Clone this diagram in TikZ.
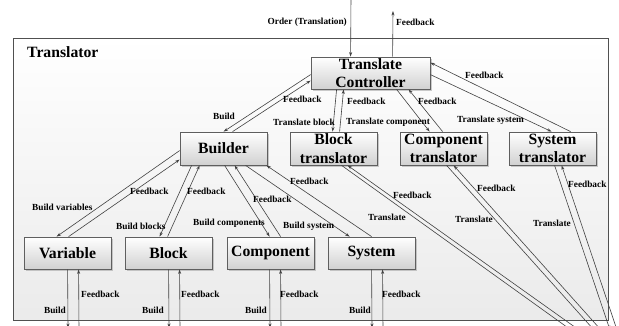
\documentclass[tikz,border=0pt]{standalone}
\usepackage{fontspec}
\setmainfont{Liberation Serif}
\usetikzlibrary{calc,arrows.meta,shadows}
\definecolor{edgegray}{RGB}{65,65,65}
\definecolor{framegray}{RGB}{80,80,80}
\definecolor{boxgray}{RGB}{95,95,95}
\tikzset{
  unit/.style={draw=boxgray, line width=0.8pt, top color=white, bottom color=black!18,
    drop shadow={shadow xshift=1.5pt, shadow yshift=-1.5pt, fill=black!40, opacity=0.5},
    inner sep=0pt, minimum width=87pt, minimum height=33pt, align=center,
    font=\fontsize{15.7}{18.5}\selectfont\bfseries},
  flow/.style={draw=edgegray, line width=0.6pt, -{Stealth[length=4.5pt,width=3pt]}},
  tag/.style={font=\fontsize{9.3}{10}\selectfont\bfseries, inner sep=0pt},
}
\begin{document}
\begin{tikzpicture}[x=1pt,y=-1pt]
\useasboundingbox (0,0) rectangle (619,325);

% enclosing translator area
\node[draw=framegray, line width=0.8pt, top color=white, bottom color=black!8,
      minimum width=595pt, minimum height=282pt, inner sep=0pt] (frame) at (310.5,179) {};
\node[anchor=west, font=\fontsize{15.7}{18}\selectfont\bfseries, inner sep=0pt] (title) at (27,52) {Translator};

% components
\node[unit, minimum width=119pt, minimum height=32pt] (ctrl) at (370.5,73) {Translate\\Controller};
\node[unit] (builder) at (223.5,148.5) {Builder};
\node[unit] (btr) at (333.5,148.5) {Block\\translator};
\node[unit] (ctr) at (443.5,148.5) {Component\\translator};
\node[unit] (str) at (552.5,148.5) {System\\translator};
\node[unit, minimum height=32pt] (var) at (67.5,253) {Variable};
\node[unit, minimum height=32pt] (blk) at (168.5,253) {Block};
\node[unit, minimum height=32pt] (cmp) at (270.5,253) {Component};
\node[unit, minimum height=32pt] (sys) at (371.5,253) {System};

% free ends outside the area
\coordinate (ordsrc) at (351,-3);
\coordinate (fbdst) at (393,11);
\coordinate (varout) at (68,328);  \coordinate (varin) at (79,330);
\coordinate (blkout) at (169,328); \coordinate (blkin) at (180,330);
\coordinate (cmpout) at (270,328); \coordinate (cmpin) at (281,330);
\coordinate (sysout) at (372,328); \coordinate (sysin) at (383,330);
\coordinate (btrout) at (571,330); \coordinate (btrin) at (579,330);
\coordinate (ctrout) at (594,330); \coordinate (ctrin) at (601,330);
\coordinate (strout) at (610,330); \coordinate (strin) at (617,330);

% controller in/out
\draw[flow] (ordsrc) -- ($(ctrl.north west)+(40,0)$);
\draw[flow] ($(ctrl.north west)+(82,0)$) -- (fbdst);
\node[tag, anchor=east] (l1) at (347,22) {Order (Translation)};
\node[tag, anchor=west] (l2) at (396,22) {Feedback};

% controller <-> builder
\draw[flow] ($(ctrl.north west)+(0,18)$) -- ($(builder.north west)+(44,0)$);
\draw[flow] ($(builder.north west)+(53,0)$) -- ($(ctrl.north west)+(0,24)$);
\node[tag, anchor=west] (l3) at (213,116) {Build};
\node[tag, anchor=west] (l4) at (283,99) {Feedback};

% controller <-> block translator
\draw[flow] ($(ctrl.south west)+(26,0)$) -- ($(btr.north west)+(43,0)$);
\draw[flow] ($(btr.north west)+(50,0)$) -- ($(ctrl.south west)+(33,0)$);
\node[tag, anchor=east] (l5) at (335,122) {Translate block};
\node[tag, anchor=west] (l6) at (347,101) {Feedback};

% controller <-> component translator
\draw[flow] ($(ctrl.south west)+(86,0)$) -- ($(ctr.north west)+(30,0)$);
\draw[flow] ($(ctr.north west)+(43,0)$) -- ($(ctrl.south west)+(98,0)$);
\node[tag, anchor=west] (l7) at (346,122) {Translate component};
\node[tag, anchor=west] (l8) at (418,101) {Feedback};

% controller <-> system translator
\draw[flow] ($(ctrl.north east)+(0,18)$) -- ($(str.north west)+(43,0)$);
\draw[flow] ($(str.north west)+(62,0)$) -- ($(ctrl.north east)+(0,6)$);
\node[tag, anchor=west] (l9) at (465,75) {Feedback};
\node[tag, anchor=west] (l10) at (457,120) {Translate system};

% builder <-> building blocks
\draw[flow] ($(builder.north west)+(0,19)$) -- ($(var.north west)+(33,0)$);
\draw[flow] ($(var.north west)+(45,0)$) -- ($(builder.north west)+(0,28)$);
\node[tag, anchor=west] (l11) at (32,207) {Build variables};
\node[tag, anchor=west] (l12) at (130,191) {Feedback};

\draw[flow] ($(builder.south west)+(12,0)$) -- ($(blk.north west)+(35,0)$);
\draw[flow] ($(blk.north west)+(43,0)$) -- ($(builder.south west)+(20,0)$);
\node[tag, anchor=west] (l13) at (116,226) {Build blocks};
\node[tag, anchor=west] (l14) at (187,191) {Feedback};

\draw[flow] ($(builder.south west)+(45,0)$) -- ($(cmp.north west)+(43,0)$);
\draw[flow] ($(cmp.north west)+(54,0)$) -- ($(builder.south west)+(55,0)$);
\node[tag, anchor=west] (l15) at (193,223) {Build components};
\node[tag, anchor=west] (l16) at (253,199) {Feedback};

\draw[flow] ($(builder.south west)+(66,0)$) -- ($(sys.north west)+(22,0)$);
\draw[flow] ($(sys.north west)+(44,0)$) -- ($(builder.south east)+(-1,0)$);
\node[tag, anchor=west] (l17) at (283,226) {Build system};
\node[tag, anchor=west] (l18) at (290,181) {Feedback};

% translators to the outside
\draw[flow] ($(btr.south west)+(52,0)$) -- (btrout);
\draw[flow] (btrin) -- ($(btr.south west)+(58,0)$);
\node[tag, anchor=west] (l19) at (368,217) {Translate};
\node[tag, anchor=west] (l20) at (393,195) {Feedback};

\draw[flow] ($(ctr.south west)+(47,0)$) -- (ctrout);
\draw[flow] (ctrin) -- ($(ctr.south west)+(54,0)$);
\node[tag, anchor=west] (l21) at (455,219) {Translate};
\node[tag, anchor=west] (l22) at (477,188) {Feedback};

\draw[flow] ($(str.south west)+(46,0)$) -- (strout);
\draw[flow] (strin) -- ($(str.south west)+(53,0)$);
\node[tag, anchor=west] (l23) at (533,223) {Translate};
\node[tag, anchor=west] (l24) at (568,184) {Feedback};

% building blocks to the outside
\draw[flow] ($(var.south west)+(44,0)$) -- (varout);
\draw[flow] (varin) -- ($(var.south west)+(55,0)$);
\node[tag, anchor=east] (l25) at (66,310) {Build};
\node[tag, anchor=west] (l26) at (81,294) {Feedback};

\draw[flow] ($(blk.south west)+(44,0)$) -- (blkout);
\draw[flow] (blkin) -- ($(blk.south west)+(55,0)$);
\node[tag, anchor=east] (l27) at (164,310) {Build};
\node[tag, anchor=west] (l28) at (181,294) {Feedback};

\draw[flow] ($(cmp.south west)+(43,0)$) -- (cmpout);
\draw[flow] (cmpin) -- ($(cmp.south west)+(54,0)$);
\node[tag, anchor=east] (l29) at (267,310) {Build};
\node[tag, anchor=west] (l30) at (280,294) {Feedback};

\draw[flow] ($(sys.south west)+(44,0)$) -- (sysout);
\draw[flow] (sysin) -- ($(sys.south west)+(55,0)$);
\node[tag, anchor=east] (l31) at (371,310) {Build};
\node[tag, anchor=west] (l32) at (382,294) {Feedback};
\end{tikzpicture}
\end{document}
